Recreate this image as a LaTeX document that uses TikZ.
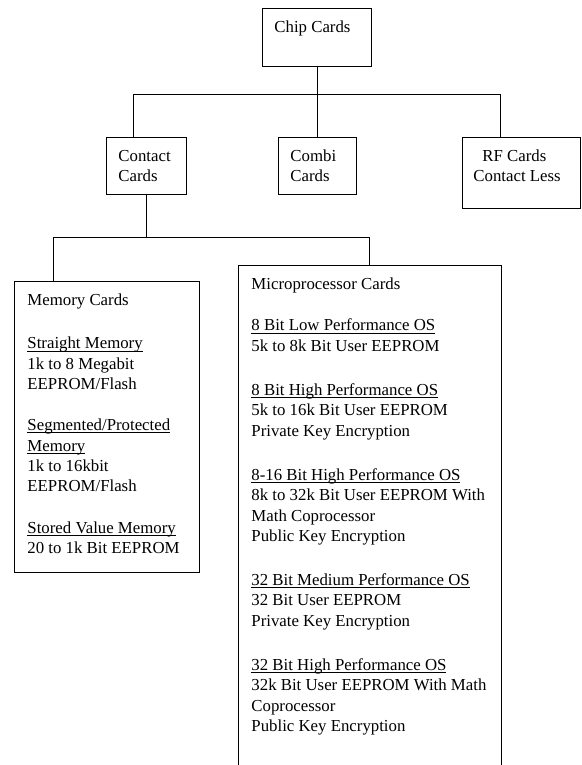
\documentclass[tikz,border=0pt]{standalone}
\usepackage{fontspec}
\setmainfont{Liberation Serif}

% text block of a card: width, height, lines
\newcommand{\cardtext}[3]{\parbox[t][#2][t]{#1}{\raggedright\strut #3}}
% underline at a fixed depth
\newcommand{\uln}[1]{\leavevmode\setbox0\hbox{#1}\rlap{\rule[-2.4pt]{\wd0}{0.8pt}}\box0}

\begin{document}
\begin{tikzpicture}[x=1pt, y=-1pt, line width=0.9pt,
	card/.style={draw, anchor=north west, inner xsep=12pt, inner ysep=10pt,
		font=\fontsize{16.8}{20.3}\selectfont}]
	\useasboundingbox (0,0) rectangle (581,765);
	\clip (0,0) rectangle (581,765);

	% top levels
	\node[card] (chip) at (262,8) {\cardtext{85pt}{38pt}{Chip Cards}};
	\node[card] (contact) at (106,137) {\cardtext{56pt}{37pt}{Contact\\Cards}};
	\node[card] (combi) at (278,137) {\cardtext{54pt}{37pt}{Combi\\Cards}};
	\node[card, inner xsep=11pt] (rf) at (462,137) {\cardtext{96pt}{51pt}{\hspace*{9pt}RF Cards\\Contact Less}};

	% contact cards
	\node[card, inner xsep=13pt] (memory) at (14,281) {\cardtext{159pt}{271pt}{%
		Memory Cards\\[23pt]
		\uln{Straight Memory}\\
		1k to 8 Megabit\\
		EEPROM/Flash\\[21pt]
		\uln{Segmented/Protected}\\
		\uln{Memory}\\
		1k to 16kbit\\
		EEPROM/Flash\\[21pt]
		\uln{Stored Value Memory}\\
		20 to 1k Bit EEPROM}};
	\node[card, inner xsep=13pt] (micro) at (238,265) {\cardtext{237pt}{540pt}{%
		Microprocessor Cards\\[21pt]
		\uln{8 Bit Low Performance OS}\\
		5k to 8k Bit User EEPROM\\[24pt]
		\uln{8 Bit High Performance OS}\\
		5k to 16k Bit User EEPROM\\
		Private Key Encryption\\[24pt]
		\uln{8-16 Bit High Performance OS}\\
		8k to 32k Bit User EEPROM With\\
		Math Coprocessor\\
		Public Key Encryption\\[24pt]
		\uln{32 Bit Medium Performance OS}\\
		32 Bit User EEPROM\\
		Private Key Encryption\\[24pt]
		\uln{32 Bit High Performance OS}\\
		32k Bit User EEPROM With Math\\
		Coprocessor\\
		Public Key Encryption}};

	% connectors
	\draw (chip.south) -- (chip.south |- combi.north);
	\draw ([xshift=27pt]contact.north west) -- ++(0,-43) -| ([xshift=38pt]rf.north west);
	\draw (contact.south) -- ++(0,43) coordinate (split);
	\draw ([xshift=39pt]memory.north west) |- (split) -| ([xshift=131pt]micro.north west);
\end{tikzpicture}
\end{document}
